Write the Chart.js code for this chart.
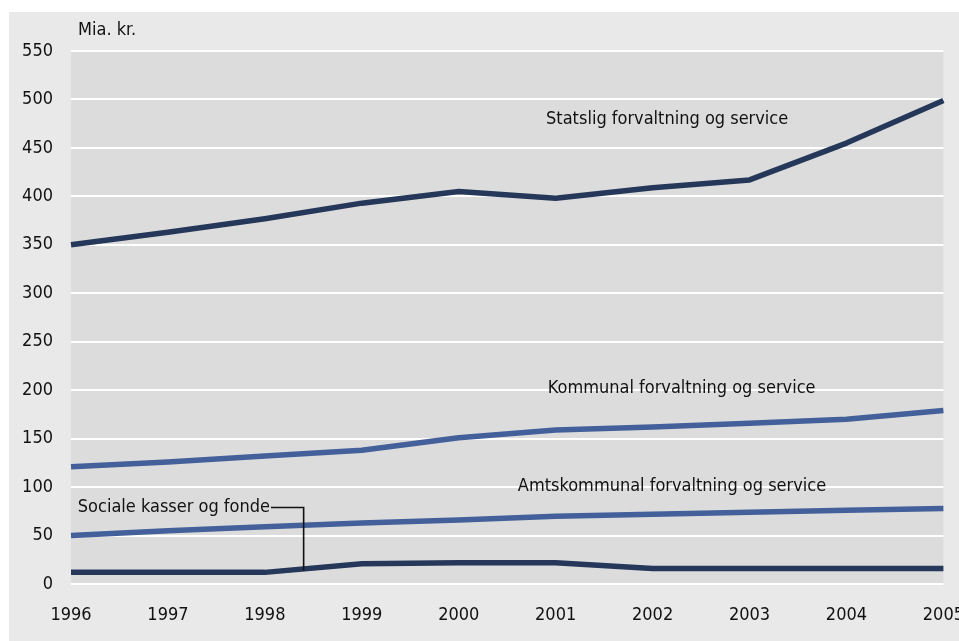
<!DOCTYPE html>
<html>
<head>
<meta charset="utf-8">
<script src="https://cdn.jsdelivr.net/npm/chart.js@4/dist/chart.umd.min.js"></script>
<style>
  html, body { margin: 0; padding: 0; background: #ffffff; overflow: hidden; width: 959px; height: 641px; }
  #wrap { position: absolute; left: 0; top: 0; width: 985px; height: 641px; }
</style>
</head>
<body>
<div id="wrap"><canvas id="c" width="985" height="641"></canvas></div>
<script>
const years = ['1996','1997','1998','1999','2000','2001','2002','2003','2004','2005'];
const statslig = [350, 363, 377, 393, 405, 398, 409, 417, 455, 499];
const kommunal = [121, 126, 132, 138, 151, 159, 162, 166, 170, 179];
const amtskommunal = [50, 55, 59, 63, 66, 70, 72, 74, 76, 78];
const sociale = [12, 12, 12, 21, 22, 22, 16, 16, 16, 16];
const seriesNames = ['Statslig forvaltning og service', 'Kommunal forvaltning og service', 'Amtskommunal forvaltning og service', 'Sociale kasser og fonde'];
const yUnit = 'Mia. kr.';
const yMin = 0, yMax = 550, yStep = 50;

const NAVY = '#263859';
const BLUE = '#44609a';
const FONT = '"DejaVu Sans Condensed", "Liberation Sans Narrow", sans-serif';
const FSIZE = 18;

// label anchors in data space: [xIndex, yValue, align]
const labelAnchors = [
  [6.15, 479, 'center'],
  [6.3, 202, 'center'],
  [6.2, 101, 'center'],
  [0.07, 79, 'left']
];
// leader for Sociale kasser og fonde: from text end to a point on the line
const leaderTarget = [2.4, 14];

const bgPlugin = {
  id: 'bg',
  beforeDraw(chart) {
    const ctx = chart.ctx, a = chart.chartArea;
    ctx.save();
    ctx.fillStyle = '#ffffff';
    ctx.fillRect(0, 0, chart.width, chart.height);
    ctx.fillStyle = '#e9e9e9';
    ctx.fillRect(9, 12, chart.width - 9, chart.height - 12);
    ctx.fillStyle = '#dcdcdc';
    ctx.fillRect(a.left, a.top, a.right - a.left, a.bottom - a.top);
    ctx.restore();
  },
  afterDraw(chart) {
    const ctx = chart.ctx, x = chart.scales.x, y = chart.scales.y;
    ctx.save();
    ctx.font = FSIZE + 'px ' + FONT;
    ctx.fillStyle = '#111111';
    ctx.textBaseline = 'middle';
    ctx.textAlign = 'left';
    ctx.fillText(yUnit, 78, 30);
    let socialeEnd = null;
    labelAnchors.forEach((an, i) => {
      const px = x.getPixelForValue(an[0]);
      const py = y.getPixelForValue(an[1]);
      ctx.textAlign = an[2];
      ctx.fillText(seriesNames[i], px, py);
      if (i === 3) {
        socialeEnd = [px + ctx.measureText(seriesNames[i]).width + 1, py];
      }
    });
    if (socialeEnd) {
      const tx = x.getPixelForValue(leaderTarget[0]);
      const ty = y.getPixelForValue(leaderTarget[1]);
      ctx.strokeStyle = '#111111';
      ctx.lineWidth = 1.6;
      ctx.beginPath();
      ctx.moveTo(socialeEnd[0], socialeEnd[1]);
      ctx.lineTo(tx, socialeEnd[1]);
      ctx.lineTo(tx, ty);
      ctx.stroke();
    }
    ctx.restore();
  }
};

const mk = (data, color) => ({
  data, borderColor: color, backgroundColor: color, borderWidth: 5.5,
  pointRadius: 0, tension: 0, fill: false, borderJoinStyle: 'round', borderCapStyle: 'butt'
});

new Chart(document.getElementById('c'), {
  type: 'line',
  data: {
    labels: years,
    datasets: [
      mk(statslig, NAVY),
      mk(kommunal, BLUE),
      mk(amtskommunal, BLUE),
      mk(sociale, NAVY)
    ]
  },
  options: {
    responsive: false,
    animation: false,
    events: [],
    layout: { padding: { left: 0, right: 41, top: 51, bottom: 0 } },
    plugins: { legend: { display: false }, tooltip: { enabled: false } },
    scales: {
      x: {
        grid: { display: false, drawTicks: false },
        border: { display: false },
        ticks: { color: '#111111', font: { family: FONT, size: FSIZE }, padding: 21, maxRotation: 0, autoSkip: false },
        afterFit(scale) { scale.height = 641 - 584; }
      },
      y: {
        min: yMin, max: yMax,
        grid: { color: '#ffffff', lineWidth: 2, drawTicks: false },
        border: { display: false },
        ticks: { stepSize: yStep, color: '#111111', font: { family: FONT, size: FSIZE }, padding: 18 },
        afterFit(scale) { scale.width = 71; }
      }
    }
  },
  plugins: [bgPlugin]
});
</script>
</body>
</html>
